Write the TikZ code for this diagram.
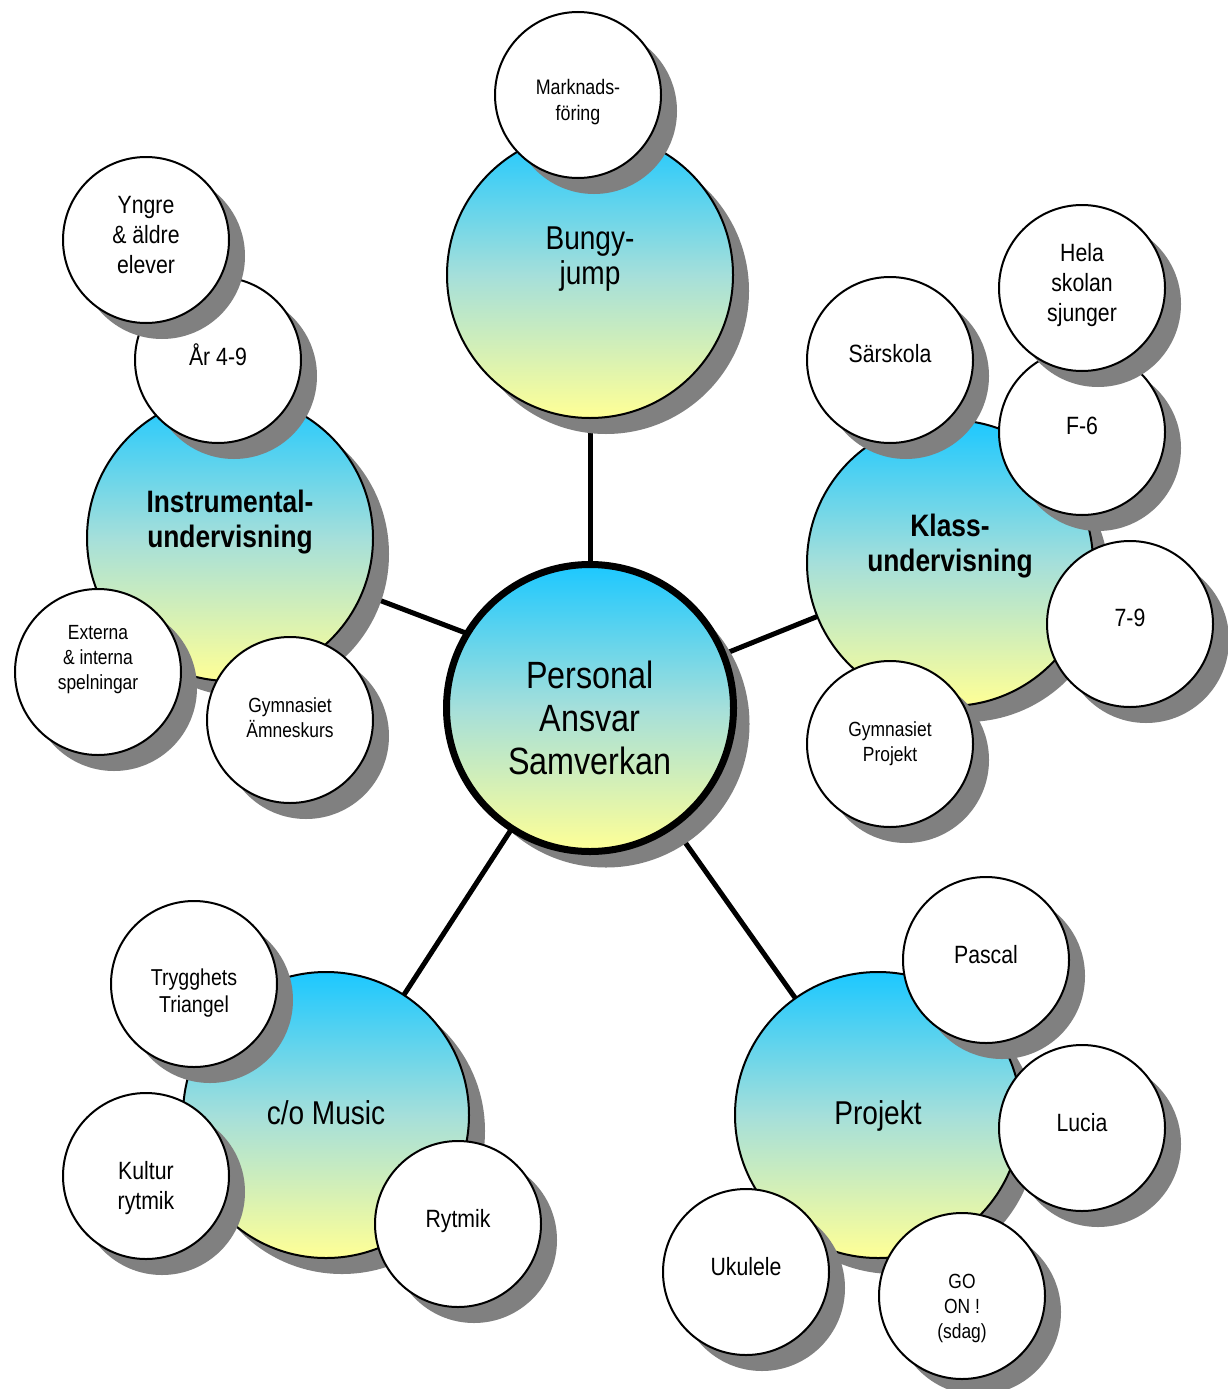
\documentclass[tikz,border=0pt]{standalone}
\usepackage{fontspec}
\setmainfont{Liberation Sans}[FakeStretch=0.85]
\usetikzlibrary{shadows,backgrounds}
\definecolor{topc}{RGB}{28,200,255}
\definecolor{midc}{RGB}{165,223,218}
\definecolor{botc}{RGB}{255,255,150}
\definecolor{shadowc}{RGB}{128,128,128}
\tikzset{
 shad/.style={drop shadow={shadow xshift=16pt,shadow yshift=-16pt,fill=shadowc,opacity=1}},
 bigc/.style={circle,draw=black,line width=2pt,minimum size=286pt,inner sep=0pt,top color=topc,bottom color=botc,middle color=midc,shad},
 ctrc/.style={bigc,line width=7pt,minimum size=287pt},
 smallc/.style={circle,draw=black,line width=2pt,fill=white,minimum size=166pt,inner sep=0pt,shad},
 bigt/.style={font=\fontsize{33}{35}\selectfont,align=center,inner sep=0pt},
 boldt/.style={font=\bfseries\fontsize{31}{35}\selectfont,align=center,inner sep=0pt},
 ctrt/.style={font=\fontsize{38}{43}\selectfont,align=center,inner sep=0pt},
 midt/.style={font=\fontsize{25}{30}\selectfont,align=center,inner sep=0pt},
 tryt/.style={font=\fontsize{23}{27}\selectfont,align=center,inner sep=0pt},
 mkt/.style={font=\fontsize{21}{26}\selectfont,align=center,inner sep=0pt},
 smt/.style={font=\fontsize{20.5}{25}\selectfont,align=center,inner sep=0pt},
 conn/.style={line width=5pt},
}
\begin{document}
\begin{tikzpicture}[x=1pt,y=-1pt]
\useasboundingbox (0,0) rectangle (1227,1389);
% Bungy group
\node[bigc, label={[bigt,yshift=16pt]center:{Bungy-\\jump}}] (bungy) at (590,275) {};
\node[smallc, label={[mkt,yshift=-7pt]center:{Marknads-\\föring}}] (mark) at (578,95) {};
% Instrumental group
\node[bigc, label={[boldt,yshift=15.5pt]center:{Instrumental-\\undervisning}}] (instr) at (230,538) {};
\node[smallc, label={[midt,yshift=5pt]center:{År 4-9}}] (ar) at (218,360) {};
\node[smallc, label={[midt,yshift=5pt]center:{Yngre\\\& äldre\\elever}}] (yngre) at (146,240) {};
\node[smallc, label={[smt,yshift=12pt]center:{Externa\\\& interna\\spelningar}}] (ext) at (98,672) {};
\node[smallc, label={[smt,yshift=2pt]center:{Gymnasiet\\Ämneskurs}}] (gyma) at (290,720) {};
% Klass group
\node[bigc, label={[boldt,yshift=16.5pt]center:{Klass-\\undervisning}}] (klass) at (950,563) {};
\node[smallc, label={[midt,yshift=6pt]center:{Särskola}}] (sar) at (890,360) {};
\node[smallc, label={[midt,yshift=6pt]center:{F-6}}] (f6) at (1082,432) {};
\node[smallc, label={[midt,yshift=3pt]center:{Hela\\skolan\\sjunger}}] (hela) at (1082,288) {};
\node[smallc, label={[midt,yshift=6pt]center:{7-9}}] (s79) at (1130,624) {};
\node[smallc, label={[smt,yshift=0pt]center:{Gymnasiet\\Projekt}}] (gymp) at (890,744) {};
% c/o Music group
\node[bigc, label={[bigt,yshift=2pt]center:{c/o Music}}] (co) at (326,1115) {};
\node[smallc, label={[tryt,yshift=-9pt]center:{Trygghets\\Triangel}}] (tryg) at (194,984) {};
\node[smallc, label={[midt,yshift=-12pt]center:{Kultur\\rytmik}}] (kult) at (146,1176) {};
\node[smallc, label={[midt,yshift=3pt]center:{Rytmik}}] (ryt) at (458,1224) {};
% Projekt group
\node[bigc, label={[bigt,yshift=-1pt]center:{Projekt}}] (proj) at (878,1115) {};
\node[smallc, label={[midt,yshift=5pt]center:{Pascal}}] (pasc) at (986,960) {};
\node[smallc, label={[midt,yshift=5pt]center:{Lucia}}] (luc) at (1082,1128) {};
\node[smallc, label={[smt,yshift=-12pt]center:{GO\\ON !\\(sdag)}}] (goon) at (962,1296) {};
\node[smallc, label={[midt,yshift=5pt]center:{Ukulele}}] (uku) at (746,1272) {};
% centre
\node[ctrc, label={[ctrt,yshift=-10pt]center:{Personal\\Ansvar\\Samverkan}}] (ctr) at (590,708) {};
% connectors
\begin{scope}[on background layer]
\fill[white] (0,0) rectangle (1227,1389);
\coordinate (iA) at (500,646);
\coordinate (iB) at (350,589);
\draw[conn] (ctr.center) -- (bungy.center);
\draw[conn] (ctr.center) -- (klass.center);
\draw[conn] (ctr.center) -- (co.center);
\draw[conn] (ctr.center) -- (proj.center);
\draw[conn] (iA) -- (iB);
\end{scope}
\end{tikzpicture}
\end{document}
